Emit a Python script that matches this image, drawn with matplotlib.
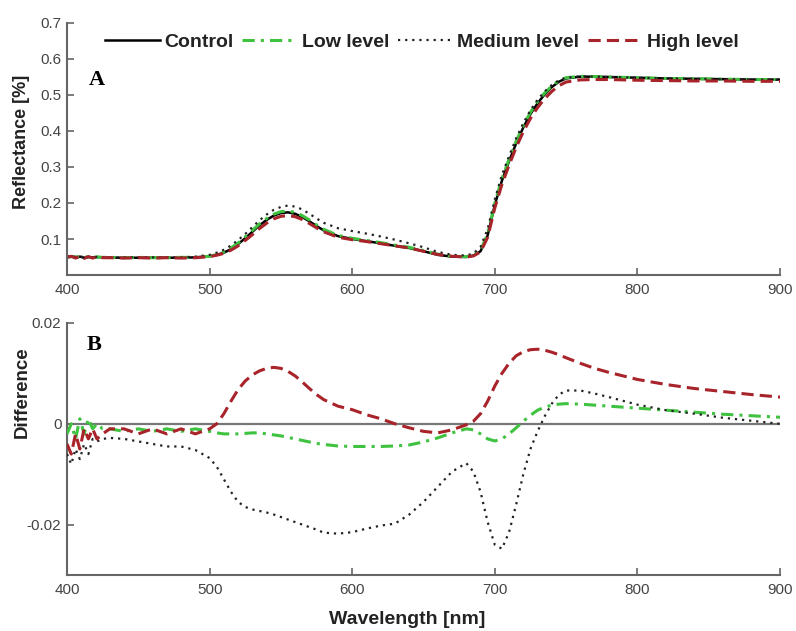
import matplotlib
matplotlib.use("Agg")
import matplotlib.pyplot as plt
from matplotlib.lines import Line2D

wavelength = [400, 403, 406, 409, 412, 415, 418, 421, 425, 430,
              440, 450, 460, 470, 480, 490, 500,
              505, 510, 515, 520, 525, 530, 535, 540, 545, 550, 555, 560, 565, 570, 575, 580,
              590, 600, 610, 620, 630, 640, 650, 660, 670, 680,
              685, 690, 695, 700, 705, 710, 715, 720, 725, 730, 735, 740, 745, 750,
              760, 770, 780, 800, 820, 840, 860, 880, 900]

refl_control = [0.050, 0.052, 0.049, 0.051, 0.048, 0.050, 0.049, 0.050, 0.049, 0.048,
                0.048, 0.048, 0.048, 0.048, 0.048, 0.049, 0.052,
                0.056, 0.062, 0.072, 0.086, 0.102, 0.120, 0.138, 0.153, 0.165, 0.172, 0.174, 0.170, 0.161, 0.149, 0.136, 0.124,
                0.108, 0.100, 0.094, 0.088, 0.081, 0.075, 0.066, 0.056, 0.051, 0.050,
                0.054, 0.066, 0.110, 0.195, 0.262, 0.316, 0.366, 0.410, 0.447, 0.477, 0.502, 0.522, 0.537, 0.546,
                0.551, 0.551, 0.550, 0.548, 0.546, 0.545, 0.544, 0.543, 0.543]

refl_low = [0.049, 0.051, 0.050, 0.050, 0.049, 0.051, 0.048, 0.050, 0.049, 0.049,
            0.048, 0.049, 0.048, 0.048, 0.049, 0.049, 0.052,
            0.057, 0.064, 0.075, 0.089, 0.106, 0.124, 0.142, 0.157, 0.169, 0.176, 0.178, 0.174, 0.165, 0.153, 0.139, 0.127,
            0.110, 0.102, 0.096, 0.090, 0.083, 0.077, 0.068, 0.058, 0.052, 0.051,
            0.055, 0.068, 0.115, 0.200, 0.268, 0.322, 0.372, 0.415, 0.452, 0.482, 0.506, 0.525, 0.540, 0.548,
            0.552, 0.551, 0.550, 0.548, 0.546, 0.545, 0.544, 0.543, 0.543]

refl_medium = [0.051, 0.053, 0.050, 0.052, 0.049, 0.050, 0.050, 0.050, 0.049, 0.049,
               0.049, 0.049, 0.049, 0.049, 0.049, 0.051, 0.056,
               0.062, 0.070, 0.082, 0.097, 0.114, 0.133, 0.152, 0.168, 0.181, 0.189, 0.193, 0.190, 0.182, 0.170, 0.157, 0.145,
               0.130, 0.122, 0.115, 0.107, 0.098, 0.088, 0.077, 0.064, 0.056, 0.054,
               0.060, 0.078, 0.128, 0.210, 0.278, 0.330, 0.380, 0.422, 0.458, 0.487, 0.510, 0.528, 0.541, 0.548,
               0.552, 0.551, 0.550, 0.548, 0.546, 0.545, 0.544, 0.543, 0.542]

refl_high = [0.049, 0.052, 0.047, 0.052, 0.046, 0.051, 0.047, 0.051, 0.048, 0.048,
             0.047, 0.048, 0.047, 0.048, 0.047, 0.048, 0.051,
             0.055, 0.060, 0.069, 0.081, 0.096, 0.112, 0.129, 0.144, 0.156, 0.163, 0.165, 0.162, 0.154, 0.143, 0.131, 0.120,
             0.105, 0.098, 0.093, 0.087, 0.081, 0.075, 0.066, 0.057, 0.052, 0.050,
             0.053, 0.064, 0.105, 0.186, 0.252, 0.305, 0.355, 0.398, 0.435, 0.465, 0.490, 0.510, 0.526, 0.536,
             0.542, 0.543, 0.543, 0.541, 0.540, 0.539, 0.539, 0.538, 0.538]

diff_low = [-0.002, 0.000, -0.003, 0.001, -0.002, 0.001, -0.001, 0.000, -0.001, -0.001,
            -0.0015, -0.001, -0.0015, -0.001, -0.0015, -0.001, -0.0015,
            -0.0018, -0.002, -0.002, -0.002, -0.0019, -0.0018, -0.0018, -0.002, -0.0022, -0.0024, -0.0027, -0.003, -0.0033, -0.0036, -0.0039, -0.0041,
            -0.0044, -0.0045, -0.0045, -0.0045, -0.0044, -0.0042, -0.0036, -0.0028, -0.0018, -0.0010,
            -0.0012, -0.0020, -0.0030, -0.0034, -0.0030, -0.0020, -0.0008, 0.0005, 0.0017, 0.0027, 0.0033, 0.0037, 0.0039, 0.0040,
            0.0039, 0.0037, 0.0035, 0.0031, 0.0027, 0.0023, 0.0019, 0.0016, 0.0013]

diff_medium = [-0.006, -0.008, -0.005, -0.007, -0.004, -0.006, -0.003, -0.0035, -0.003, -0.0028,
               -0.003, -0.0035, -0.004, -0.0045, -0.0045, -0.0052, -0.0068,
               -0.0085, -0.011, -0.0135, -0.0155, -0.0165, -0.017, -0.0173, -0.0176, -0.018, -0.0185, -0.019, -0.0195, -0.020, -0.0205, -0.021, -0.0216,
               -0.0218, -0.0215, -0.0208, -0.0202, -0.0198, -0.0180, -0.0155, -0.0125, -0.0095, -0.0078,
               -0.0095, -0.0135, -0.0195, -0.0240, -0.0248, -0.0215, -0.0160, -0.0100, -0.0050, -0.0015, 0.0015, 0.0040, 0.0058, 0.0066,
               0.0066, 0.0060, 0.0053, 0.0038, 0.0027, 0.0020, 0.0012, 0.0006, 0.0000]

diff_high = [-0.004, -0.006, -0.002, -0.005, -0.001, -0.003, -0.001, -0.003, -0.002, -0.001,
             -0.001, -0.002, -0.001, -0.002, -0.001, -0.002, -0.001,
             0.000, 0.002, 0.0045, 0.0068, 0.0085, 0.0097, 0.0105, 0.0110, 0.0112, 0.0110, 0.0104, 0.0095, 0.0083, 0.0070, 0.0058, 0.0048,
             0.0035, 0.0028, 0.0018, 0.0010, 0.0000, -0.0008, -0.0015, -0.0018, -0.0012, -0.0002,
             0.0005, 0.0020, 0.0045, 0.0075, 0.0100, 0.0120, 0.0135, 0.0143, 0.0147, 0.0148, 0.0146, 0.0142, 0.0137, 0.0131,
             0.0120, 0.0110, 0.0102, 0.0088, 0.0078, 0.0070, 0.0064, 0.0058, 0.0053]

series_names = ["Control", "Low level", "Medium level", "High level"]
x_ticks = [400, 500, 600, 700, 800, 900]
top_yticks = [0.1, 0.2, 0.3, 0.4, 0.5, 0.6, 0.7]
bot_yticks = [-0.02, 0, 0.02]
bot_ytick_labels = ["-0.02", "0", "0.02"]

GREEN = "#3fc23f"
RED = "#a8232a"
SPINE = "#666666"
TICKC = "#444444"
narrow = ["Liberation Sans Narrow", "Liberation Sans", "DejaVu Sans"]
sans = ["Liberation Sans", "DejaVu Sans"]
serif = ["Liberation Serif", "DejaVu Serif"]

styles = {
    "Control": dict(color="black", lw=1.8, ls="-"),
    "Low level": dict(color=GREEN, lw=2.2, ls=(0, (4, 2, 1, 2))),
    "Medium level": dict(color="#222222", lw=1.6, ls=(0, (1, 2.2))),
    "High level": dict(color=RED, lw=2.2, ls=(0, (4, 2))),
}

fig = plt.figure(figsize=(7.96, 6.31), dpi=100)
ax1 = fig.add_axes([67/796, 1-275/631, 713/796, 252/631])
ax2 = fig.add_axes([67/796, 1-575/631, 713/796, 252/631])


def style_axes(ax):
    for s in ["top", "right"]:
        ax.spines[s].set_visible(False)
    for s in ["left", "bottom"]:
        ax.spines[s].set_color(SPINE)
        ax.spines[s].set_linewidth(1.5)
    ax.tick_params(direction="in", length=5, width=1.2, color=SPINE,
                   labelcolor=TICKC, labelsize=11)
    ax.tick_params(axis="x", pad=6)
    ax.tick_params(axis="y", pad=4)
    for lab in ax.get_xticklabels() + ax.get_yticklabels():
        lab.set_family(narrow)


top_data = [refl_control, refl_low, refl_medium, refl_high]
for name, yv in zip(series_names, top_data):
    ax1.plot(wavelength, yv, **styles[name])
ax1.set_xlim(400, 900)
ax1.set_ylim(0, 0.7)
ax1.set_xticks(x_ticks)
ax1.set_yticks(top_yticks)
ax1.set_yticklabels([f"{v:.1f}" for v in top_yticks])
style_axes(ax1)

ax2.axhline(0, color="#777777", lw=1.6, zorder=1)
bot_data = [diff_low, diff_medium, diff_high]
for name, yv in zip(series_names[1:], bot_data):
    ax2.plot(wavelength, yv, zorder=3, **styles[name])
ax2.set_xlim(400, 900)
ax2.set_ylim(-0.03, 0.02)
ax2.set_xticks(x_ticks)
ax2.set_yticks(bot_yticks)
ax2.set_yticklabels(bot_ytick_labels)
style_axes(ax2)

fig.text(22/796, 1-142/631, "Reflectance [%]", rotation=90, ha="center", va="center",
         fontsize=13, fontweight="bold", family=sans, color="#222222")
fig.text(22/796, 1-392/631, "Difference", rotation=90, ha="center", va="center",
         fontsize=13.5, fontweight="bold", family=sans, color="#222222")
fig.text(407/796, 3/631, "Wavelength [nm]", ha="center", va="bottom",
         fontsize=14, fontweight="bold", family=narrow, color="#222222")

fig.text(97/796, 1-80/631, "A", ha="center", va="center", fontsize=16,
         fontweight="bold", family=serif)
fig.text(94/796, 1-345/631, "B", ha="center", va="center", fontsize=16,
         fontweight="bold", family=serif)

handles = [Line2D([], [], **styles[n]) for n in series_names]
leg = fig.legend(handles, series_names, loc="center", bbox_to_anchor=(422/796, 1-42/631),
                 ncol=4, frameon=False, handlelength=2.8, handletextpad=0.25,
                 columnspacing=0.45, prop=dict(family=sans, weight="bold", size=14))
for t in leg.get_texts():
    t.set_color("#222222")

fig.savefig("out.png", dpi=100)
